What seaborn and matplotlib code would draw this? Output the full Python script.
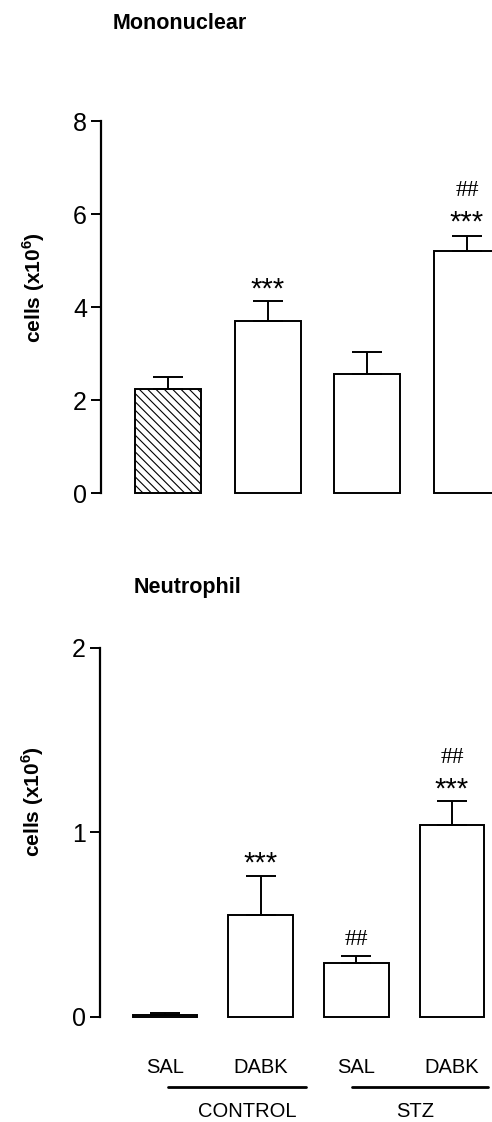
import numpy as np
import pandas as pd
import matplotlib
matplotlib.use("Agg")
import matplotlib.pyplot as plt
import seaborn as sns

# ---- data ----
groups = ["CONTROL SAL", "CONTROL DABK", "STZ SAL", "STZ DABK"]
tick_labels = ["SAL", "DABK", "SAL", "DABK"]
mono_mean = [2.24, 3.71, 2.57, 5.21]
mono_sem = [0.26, 0.43, 0.46, 0.32]
neut_mean = [0.01, 0.55, 0.29, 1.04]
neut_sem = [0.01, 0.21, 0.04, 0.13]
mono_marks = ["", "***", "", "***\n##"]
neut_marks = ["", "***", "##", "***\n##"]

sns.set_theme(style="white")
plt.rcParams["font.family"] = ["Liberation Sans", "DejaVu Sans"]
plt.rcParams["mathtext.fontset"] = "custom"
plt.rcParams["mathtext.rm"] = "Liberation Sans:bold"
plt.rcParams["mathtext.bf"] = "Liberation Sans:bold"
plt.rcParams["hatch.linewidth"] = 0.8
for k in ["text.color", "axes.labelcolor", "xtick.color", "ytick.color", "axes.edgecolor"]:
    plt.rcParams[k] = "black"

W, H = 492, 1122
fig = plt.figure(figsize=(W / 100, H / 100), dpi=100)


def px_axes(left, right, top, bottom):
    return fig.add_axes([left / W, 1 - bottom / H, (right - left) / W, (bottom - top) / H])


def draw_panel(ax, means, sems, ymax, yticks, width, xlim, hatch_first):
    df = pd.DataFrame({"group": groups, "value": means})
    sns.barplot(data=df, x="group", y="value", ax=ax, color="white",
                edgecolor="black", linewidth=1.4, width=width, errorbar=None,
                saturation=1)
    for i, p in enumerate(ax.patches):
        p.set_clip_on(False)
        p.set_facecolor("white")
        if i == 0 and hatch_first:
            p.set_hatch("\\\\\\\\")
    x = np.arange(len(means))
    ax.errorbar(x, means, yerr=[np.zeros(len(means)), sems], fmt="none",
                ecolor="black", elinewidth=1.4, capsize=11, capthick=1.4,
                clip_on=False)
    ax.set_ylim(0, ymax)
    ax.set_xlim(*xlim)
    ax.set_yticks(yticks)
    ax.set_yticklabels([str(t) for t in yticks], fontsize=18)
    ax.tick_params(axis="y", length=7, width=1.4, direction="out", pad=3, left=True,
                   colors="black")
    ax.tick_params(axis="x", length=0, colors="black")
    for s in ["top", "right", "bottom"]:
        ax.spines[s].set_visible(False)
    ax.spines["left"].set_linewidth(1.6)
    ax.spines["left"].set_color("black")
    ax.set_xlabel("")
    ax.set_ylabel(r"cells (x10$^{\mathbf{6}}$)", fontsize=15, fontweight="bold",
                  color="black")


def stars(ax, x, y):
    ax.text(x, y, "***", ha="center", va="baseline", fontsize=21, color="black")


def hashes(ax, x, y):
    ax.text(x, y, "##", ha="center", va="center", fontsize=17, color="black",
            family=["Liberation Serif", "DejaVu Serif"])


# ---- top panel: Mononuclear ----
ax1 = px_axes(101, 492, 121.3, 493.3)
draw_panel(ax1, mono_mean, mono_sem, 8, [0, 2, 4, 6, 8], 0.663, (-0.676, 3.251), True)
ax1.set_xticks([])
ax1.yaxis.set_label_coords(-0.139, 0.552)
fig.text(112.7 / W, 1 - 29.3 / H, "Mononuclear", fontsize=15.5, fontweight="bold",
         ha="left", va="baseline")
mono_star_y = {1: 4.20, 3: 5.64}
mono_hash_y = {3: 6.52}
for i, m in enumerate(mono_marks):
    for part in m.split("\n"):
        if part == "***":
            stars(ax1, i, mono_star_y[i])
        elif part == "##":
            hashes(ax1, i, mono_hash_y[i])

# ---- bottom panel: Neutrophil ----
ax2 = px_axes(100, 492, 647.7, 1016.7)
draw_panel(ax2, neut_mean, neut_sem, 2, [0, 1, 2], 0.674, (-0.679, 3.418), False)
ax2.set_xticks(range(4))
ax2.set_xticklabels(tick_labels, fontsize=14.5)
ax2.tick_params(axis="x", pad=30)
ax2.yaxis.set_label_coords(-0.137, 0.583)
fig.text(134 / W, 1 - 592.7 / H, "Neutrophil", fontsize=15.5, fontweight="bold",
         ha="left", va="baseline")
neut_star_y = {1: 0.785, 3: 1.187}
neut_hash_y = {2: 0.42, 3: 1.406}
for i, m in enumerate(neut_marks):
    for part in m.split("\n"):
        if part == "***":
            stars(ax2, i, neut_star_y[i])
        elif part == "##":
            hashes(ax2, i, neut_hash_y[i])

# group lines and labels
trans = matplotlib.transforms.blended_transform_factory(ax2.transData, fig.transFigure)
line_y = 1 - 1086.7 / H
ax2.plot([0.03, 1.47], [line_y, line_y], transform=trans, color="black", lw=2, clip_on=False)
ax2.plot([1.96, 3.38], [line_y, line_y], transform=trans, color="black", lw=2, clip_on=False)
ax2.text(0.86, 1 - 1117 / H, "CONTROL", transform=trans, ha="center", va="baseline",
         fontsize=14.5)
ax2.text(2.61, 1 - 1117 / H, "STZ", transform=trans, ha="center", va="baseline",
         fontsize=14.5)

fig.savefig("out.png", dpi=100)
